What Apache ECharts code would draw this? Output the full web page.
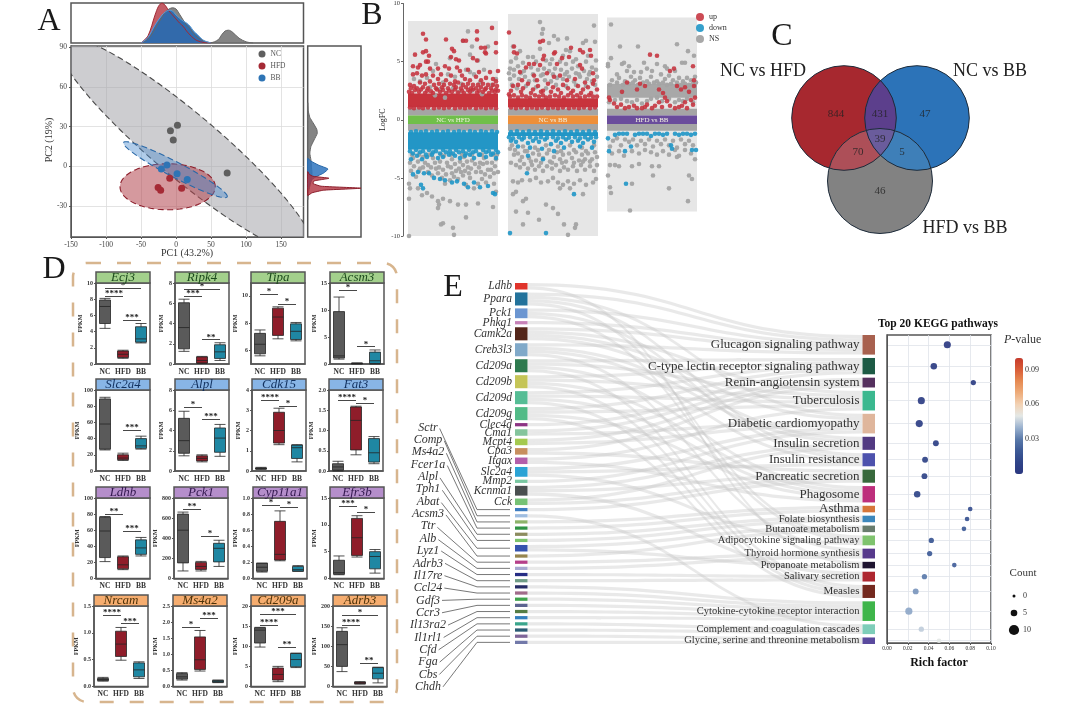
<!DOCTYPE html>
<html><head><meta charset="utf-8">
<style>html,body{margin:0;padding:0;background:#fff}#c{width:1080px;height:727px}</style>
<script src="https://cdn.jsdelivr.net/npm/echarts@6/dist/echarts.min.js"></script></head>
<body><div id="c"></div>
<script>
// ---------- Panel A data ----------
const pcaNC=[[-8,27],[2,31],[-4,20],[73,-5]];
const pcaHFD=[[-25.6,-16],[-22,-18],[-9,-9],[8,-16.6]];
const pcaBB=[[-21,-2],[-13,1],[1.5,-5.5],[16,-10]];
// centre x, centre y, major vector x,y, conjugate vector x,y
const ellipseNC=[13,16,180,-80,29,19];
const ellipseHFD=[-12,-15.4,68,0,0,17.4];
const ellipseBB=[-1,-2.5,74,-20.5,4.5,5.2];
const topNC=[[-50,0],[-40,10],[-30,35],[-20,65],[-15,78],[-10,85],[-5,88],[0,85],[5,72],[10,58],[15,45],[20,36],[25,24],[30,15],[40,5],[50,1],[60,8],[65,20],[70,30],[75,32],[80,28],[90,12],[100,3],[110,0]];
const topHFD=[[-50,0],[-40,18],[-30,70],[-25,92],[-20,100],[-15,93],[-10,80],[-5,70],[0,60],[5,50],[10,42],[15,30],[20,20],[25,12],[30,6],[40,1],[50,0]];
const topBB=[[-50,0],[-40,14],[-30,45],[-20,70],[-15,78],[-10,82],[-5,80],[0,70],[5,62],[10,55],[15,50],[20,42],[25,30],[30,22],[35,13],[40,6],[50,0]];
const sideNC=[[0,48],[1,42],[4,37],[10,33],[17,28],[18,25],[12,20],[6,15],[4,10],[6,5],[7,0],[8,-5],[7,-10],[4,-15],[1,-20],[0,-25]];
const sideBB=[[0,6],[6,4],[20,1],[38,-2],[30,-5],[15,-8],[8,-10],[4,-13],[0,-17]];
const sideHFD=[[0,-4],[3,-6],[10,-7.5],[40,-9],[12,-11],[10,-13],[25,-15],[100,-16.5],[30,-18],[8,-20],[0,-22]];
const pcaXTicks=[-150,-100,-50,0,50,100,150];
const pcaYTicks=[-30,0,30,60,90];
// ---------- Panel B data (flat x,y pairs, x inside strip) ----------
const stripNames=['NC vs HFD','NC vs BB','HFD vs BB'];
const stripTops=[8.5,9.1,8.8];
const stripBottoms=[-10,-10,-7.9];
const upBand=[[1.08,2.25],[1.08,1.85],null];
const downBand=[[-2.55,-1.08],[-1.4,-1.08],null];
const nsPatch=[null,null,[1.9,3.1]];
const bUpA=[15,7.4,18,6.9,38,6.9,55,6.8,58,6.8,69,7.6,84,7.9,88,6.6,69,6.9,73,6.2,77,6.2,77,5.8,15,5.8,18,5.9,7,5.6,21,5.5,44,6.1,46,5.9,43,5.4,48,5.2,51,5.1,88,5.8,78,5.7,65,5.3,69,5.1,12,4.7,18,5,20,5,10,4.5,5,4.6,22,4.4,30,4.4,37,4.6,41,4.4,49,4.5,52,4.2,60,4.3,71,4.1,82,4.1,90,4.2,5,3.9,9,4,14,3.8,18,3.9,25,3.8,30,3.5,33,3.9,38,3.4,43,3.8,47,3.3,54,3.8,57,3.5,62,3.4,68,3.7,73,3.4,78,3.6,85,3.5,88,3.3,2,3,6,2.9,12,3.2,17,3.1,22,3.3,26,3,31,3.1,36,3,42,3.1,46,3,50,3.2,55,3,60,3.1,65,3,70,3,75,3.1,80,3,85,3,89,2.9,3,2.7,9,2.7,15,2.8,20,2.7,28,2.7,34,2.8,40,2.7,48,2.8,53,2.7,58,2.8,63,2.7,68,2.7,73,2.8,78,2.7,83,2.7,88,2.6];
const edgeUpA=[1,2.4,4,2.3,7,2.55,11,2.4,13,2.6,17,2.3,19,2.5,23,2.45,25,2.3,29,2.6,32,2.4,35,2.55,38,2.3,41,2.5,44,2.4,47,2.6,50,2.35,54,2.5,56,2.3,60,2.55,62,2.4,65,2.6,69,2.35,71,2.5,75,2.4,77,2.6,81,2.3,84,2.5,87,2.4,90,2.5,2,1.05,6,1,11,1.05,15,1,20,1.05,26,1,31,1.05,36,1,41,1.05,47,1,52,1.05,57,1,62,1.05,68,1,73,1.05,78,1,83,1.05,88,1];
const bUpB=[1,7.5,32,6.7,35,6.8,6,6.3,6,5.8,9,5.7,36,5.5,46,5.7,47,5.8,63,6.2,72,6,75,5.8,82,6,83,5.5,26,4.8,21,4.8,18,4.5,32,4.7,35,5.2,49,4.8,54,5.3,61,5.4,72,4.7,74,4.4,85,4,12,4.1,14,3.4,26,3.8,29,3.4,39,4,46,3.7,52,3.8,59,3.4,67,3.5,77,3.2,86,3.4,1,2.2,5,2.9,10,3,15,2.7,20,3.1,25,2.6,30,2.9,35,2.5,40,3.1,45,2.8,50,2.6,55,3,60,2.7,65,2.5,70,2.9,75,2.6,80,2.8,85,3.1,89,2.6,3,2.5,13,2.4,23,2.3,33,2.4,43,2.4,53,2.3,63,2.3,73,2.3,83,2.3];
const edgeUpB=[2,2,6,2.1,10,1.9,14,2.1,18,2,22,1.9,27,2.1,31,2,35,2.1,38,1.9,42,2,47,2.1,51,2,56,1.9,60,2.1,65,2,69,2.1,72,1.9,77,2,81,2.1,85,2,89,2,3,1.05,8,1,13,1.05,19,1,24,1.05,29,1,34,1.05,40,1,45,1.05,50,1,55,1.05,61,1,66,1.05,71,1,76,1.05,82,1,87,1.05];
const bUpC=[43,5.6,50,5.5,63,4.2,67,4.4,86,4.6,87,3.4,2,1.9,3,1.7,7,1.4,10,1.1,14,1.3,18,1,22,1.1,27,1.2,30,1,35,1,38,1.1,40,1.3,45,1,48,1.2,52,1.5,55,1.1,58,1.9,60,1.6,63,1.2,68,1,72,1.1,75,1.2,78,1.5,80,1,84,1.7,86,1.3,88,1.9,30,2.6,33,3.1,20,3.2,15,2.4,38,2.9,70,2.9,74,2.6,78,2.8,82,2.4,87,2.9,52,2.6,56,2.3];
const bDownA=[3,-3.4,9,-3.1,14,-3.4,19,-3.2,24,-3,30,-3.3,35,-3.2,41,-3,47,-3.1,52,-3.3,57,-3.1,62,-3,66,-3.3,72,-3,78,-3.2,83,-3,88,-3.3,5,-4.7,10,-4.5,16,-4.6,21,-4.6,26,-5,32,-5.1,37,-5.2,44,-5.4,49,-5.3,13,-5.6,15,-5.9,56,-5.5,60,-5.8,66,-5.4,72,-5.8,80,-5.7,85,-6.3,87,-6.4];
const edgeDownA=[2,-2.7,5,-2.9,8,-2.6,12,-2.8,15,-2.7,18,-3,21,-2.6,25,-2.8,28,-2.7,32,-2.9,35,-2.6,38,-2.8,42,-2.7,45,-2.9,48,-2.6,51,-2.8,55,-2.7,58,-2.9,61,-2.6,65,-2.8,68,-2.7,71,-3,75,-2.6,78,-2.8,81,-2.7,85,-2.9,88,-2.6,90,-2.8,3,-1.05,8,-1,13,-1.05,18,-1,24,-1.05,29,-1,35,-1.05,40,-1,46,-1.05,51,-1,56,-1.05,62,-1,67,-1.05,73,-1,78,-1.05,84,-1,89,-1.05];
const bDownB=[3,-1.8,8,-1.9,14,-1.7,20,-2,25,-1.8,31,-1.9,37,-1.7,43,-2.1,48,-1.8,53,-2,58,-1.7,64,-1.9,70,-1.8,75,-2,80,-1.7,86,-1.9,10,-2.3,22,-2.4,34,-2.5,46,-2.7,56,-2.4,72,-2.3,84,-2.4,20,-3.1,35,-3.4,19,-4.6,66,-6.4,2,-9.75,38,-9.75];
const edgeDownB=[1,-1.5,5,-1.6,11,-1.5,16,-1.55,22,-1.5,28,-1.6,33,-1.5,39,-1.55,45,-1.5,50,-1.6,55,-1.5,61,-1.55,67,-1.5,72,-1.6,77,-1.5,83,-1.55,88,-1.5,3,-1.05,9,-1,15,-1.05,21,-1,27,-1.05,33,-1,39,-1.05,45,-1,51,-1.05,57,-1,63,-1.05,69,-1,75,-1.05,81,-1,87,-1.05];
const bDownC=[1,-1.6,2,-2.7,8,-1.3,12,-1.2,16,-1.2,20,-1.2,24,-2.3,28,-1.3,32,-1.2,36,-1.2,40,-1.2,44,-1.4,48,-1.2,52,-1.2,56,-1.3,60,-1.2,64,-2.2,68,-1.2,72,-1.3,76,-1.2,80,-1.2,84,-1.3,88,-1.2,89,-2.6,85,-2.6,18,-2.7,19,-5.5,65,-2.5];
const bNsA=[60,7.6,55,6.8,64,6.3,42,5.3,62,5.6,70,5.1,80,6.3,6,3.5,12,3.3,19,3.6,25,4.2,28,4.8,35,3.2,40,3.9,47,3.7,53,3.1,58,4.3,62,4.1,66,3.9,72,3.2,76,4.3,84,3,88,3.5,22,2.8,32,2.6,45,2.7,51,2.4,27,2.1,37,1.9,64,2.5,74,2.2,5,-3.3,10,-3.6,15,-3.2,20,-3.9,25,-3.3,28,-4.2,32,-3.6,36,-3.1,40,-4,44,-3.4,48,-4.4,52,-3.6,56,-3.2,60,-4.1,64,-3.5,68,-4.5,72,-3.7,76,-3.3,80,-4.3,84,-3.7,88,-3.4,3,-4.4,8,-4.9,30,-4.6,34,-5,38,-4.7,42,-5.2,46,-4.9,50,-5.1,55,-4.8,58,-5.6,62,-5,66,-5.9,70,-5.5,74,-5.1,78,-5.4,82,-4.9,86,-5.5,88,-6.2,1,-5.5,2,-5.9,1,-6.8,10,-5.9,14,-6.5,19,-6.3,24,-6.6,30,-7,35,-6.8,42,-7,31,-7.3,30,-7.6,50,-7.3,58,-7.3,70,-7.2,85,-7.5,58,-8.4,35,-8.9,33,-9,45,-9.3,46,-9.9,1,-10,2,-3.7,6,-4,12,-4.2,17,-3.7,23,-4.1,27,-3.7,31,-4.1,35,-4.3,39,-3.7,43,-4.1,47,-3.8,51,-4.2,55,-3.9,59,-3.6,63,-4.2,67,-3.8,71,-4.1,75,-3.8,79,-3.7,83,-4.3,87,-4,90,-4.5,11,-4.4,15,-4.1,20,-4.5,24,-4.8,37,-5.5,44,-4.6,53,-4.5,57,-4.4,61,-4.6,73,-4.5,77,-4.7,86,-4.6,4,-3,11,-3,22,-3,33,-3,43,-3,54,-3,64,-3,74,-3,85,-3,89,-3];
const bNsB=[32,8.4,86,8.1,35,7.8,34,7.4,46,7.2,50,6.9,59,7,41,6.6,78,6.8,87,6.7,75,6.6,5,6.3,12,5.9,25,5.4,32,6.1,44,5.2,55,5.5,58,6,62,5.9,68,5.2,80,5.5,88,5.1,3,5,8,5.3,15,4.9,20,5.4,28,5,38,5.1,42,4.8,52,5,58,4.8,65,5,70,4.6,78,5,84,4.5,2,4.4,6,4.3,10,4.6,16,4.2,23,4.5,30,4.3,36,4.4,41,4.2,47,4.4,53,4.3,59,4.1,64,4.4,68,4,76,4.2,82,4.1,88,4.3,2,3.5,6,3.8,11,3.5,17,3.7,21,3.3,27,3.4,33,3.8,37,3.4,43,3.3,49,3.6,55,3.5,61,3.7,66,3.3,72,3.7,79,3.5,84,3.3,89,3.7,4,3,9,2.7,18,2.9,28,2.8,38,2.7,48,3,58,2.9,68,3,78,2.9,87,3,2,-2.5,6,-3,10,-2.9,14,-3.2,17,-2.7,21,-3.3,25,-2.9,28,-3.5,31,-3,35,-3.3,39,-2.9,42,-3.6,46,-3.2,49,-2.8,52,-3.4,55,-3,58,-3.6,61,-2.9,64,-3.3,68,-2.8,71,-3.5,74,-3,77,-3.4,80,-2.9,84,-3.4,87,-2.8,89,-3.2,3,-3.7,8,-3.9,12,-4.1,16,-3.8,20,-4.2,24,-3.9,27,-4.3,31,-4,35,-4.4,39,-4,44,-4.2,48,-3.9,52,-4.4,56,-4.1,60,-4.3,65,-4,69,-4.4,73,-3.9,77,-4.3,82,-4,86,-4.4,89,-3.9,5,-5.3,10,-5.4,14,-5.2,22,-5.2,28,-5,33,-5.4,40,-5.3,45,-5,50,-5.4,52,-5.9,55,-5.6,60,-5.3,62,-5.9,66,-5.5,72,-5.2,78,-5.6,85,-5.4,88,-5.1,5,-6.4,8,-6.2,18,-6.8,15,-7,8,-7.9,20,-8,38,-7.3,45,-7.6,50,-8.1,31,-8.6,15,-9,56,-9,68,-9,67,-9.3,60,-9.9,75,-6.4,1,4,13,4,25,3.9,35,3.9,45,3.9,57,3.9,71,3.9,81,3.9,4,-2.2,15,-2.3,27,-2.4,38,-2.2,50,-2.3,62,-2.2,74,-2.4,86,-2.2,7,-2.6,19,-2.7,30,-2.6,41,-2.6,53,-2.7,66,-2.6,78,-2.7,12,-3.5,23,-3.6,33,-3.7,44,-3.7,54,-3.7,66,-3.7,75,-3.6,82,-3.6];
const bNsC=[4,8.2,13,6.3,31,6.3,70,6.5,81,5.9,87,5.5,1,4.8,1,4.6,4,5.3,15,4.8,17,4.9,22,4.6,37,4.9,50,4.8,58,4.6,60,4.4,68,4.2,75,4.9,78,4.9,40,4.4,45,4.2,34,4.1,27,4.1,10,3.9,20,4.2,5,3.4,12,3.6,18,3.3,24,3.7,28,3.4,33,3.6,40,3.3,44,3.7,50,3.3,54,3.9,58,3.5,62,3.8,66,3.4,72,3.6,76,3.3,80,3.6,84,3.4,88,3.7,2,1.5,8,1.7,14,1.8,20,1.6,25,1.5,30,1.7,35,1.4,40,1.6,44,1.8,50,1.9,55,1.6,62,1.8,68,1.5,72,1.7,76,1.6,80,1.8,86,1.5,3,3,10,3.2,16,3,22,3.1,26,3.2,31,3,36,3.2,42,3.1,47,3.2,52,3.1,56,3.2,60,3,64,3.1,70,3.2,74,3,78,3.1,82,3,86,3.1,89,3.2,3,-2.3,6,-1.8,10,-1.6,14,-2.2,18,-1.7,22,-1.9,26,-1.7,30,-2.2,34,-1.8,38,-2.1,42,-1.7,46,-2.3,50,-1.8,54,-2.1,58,-1.7,62,-2.2,66,-1.8,70,-2.4,74,-1.7,78,-2.1,82,-1.8,86,-2.2,5,-2.9,12,-2.7,17,-3.1,25,-2.7,32,-2.9,38,-2.6,44,-2.8,50,-3,56,-2.7,62,-3,68,-2.6,72,-3.1,78,-2.6,84,-2.9,88,-3.4,1,-4.8,3,-3.9,8,-3.9,12,-4,25,-4,32,-3.8,45,-4,52,-4,46,-4.8,70,-3.2,3,-5.8,4,-6.3,25,-5.5,62,-5.9,82,-4.8,85,-5.1,81,-7,23,-7.8];
// ---------- Panel C data ----------
const vennCircles=[[124,98,52.3],[197,98,52.3],[160,161,52.5]];
const vennCounts=[844,47,431,39,70,5,46];
const vennCountPos=[[116,94],[205,94],[160,94],[160,119],[138,132],[182,132],[160,171]];
// ---------- Panel D data: min, Q1, median, Q3, max for NC, HFD, BB ----------
const boxGroups=['NC','HFD','BB'];
const boxGenes=['Ecj3','Ripk4','Tipa','Acsm3','Slc2a4','Alpl','Cdk15','Fat3','Ldhb','Pck1','Cyp11a1','Efr3b','Nrcam','Ms4a2','Cd209a','Adrb3'];
const boxValues=[
[[4.4,5,7.1,7.9,8.1],[0.7,0.8,1.2,1.6,1.7],[2.6,2.7,3.1,4.6,5]],
[[1.25,1.5,3.6,6.05,6.4],[0.05,0.1,0.35,0.7,0.75],[0.35,0.55,1.2,1.9,2.1]],
[[5.6,5.75,6.45,7.25,7.5],[6.85,7.1,8.45,9.1,9.2],[6.7,6.8,7.4,7.95,8.05]],
[[0.9,1.1,1.5,9.7,12.4],[0.02,0.05,0.1,0.15,0.2],[0,0.1,0.6,2.2,2.6]],
[[26,27,58,89,91],[13,14,16,20,22],[27,28,31,40,43]],
[[1.5,1.75,3,5.2,5.9],[0.9,1,1.25,1.5,1.6],[1.45,1.85,3.25,4.25,4.6]],
[[0.08,0.1,0.13,0.15,0.18],[1.3,1.38,2,2.9,3.1],[0.45,0.62,1.15,1.28,1.3]],
[[0,0.02,0.1,0.18,0.24],[0.4,0.52,1.25,1.58,1.6],[0.18,0.22,0.45,0.8,0.85]],
[[21,26,59,76,77],[11,12,17,27,28],[28,30,38,48,51]],
[[75,155,480,640,660],[75,90,120,160,170],[120,165,300,350,380]],
[[0.08,0.09,0.14,0.19,0.19],[0.22,0.23,0.3,0.71,0.84],[0.09,0.09,0.11,0.15,0.16]],
[[0.7,0.8,1.1,3.4,4.2],[4,4.3,7.6,11.2,11.7],[1,1.8,4.1,5,5.4]],
[[0.1,0.11,0.13,0.15,0.17],[0.49,0.56,0.79,1.03,1.1],[0.15,0.18,0.31,0.44,0.46]],
[[0.2,0.23,0.3,0.4,0.43],[0.48,0.53,0.83,1.54,1.74],[0.12,0.13,0.16,0.19,0.2]],
[[9.8,10.8,14,14.6,14.7],[1.2,1.6,3,4.6,5],[4.7,4.9,6.7,8.2,8.3]],
[[37,50,104,137,146],[6,7,9,11,12],[9,19,33,47,48]]];
const boxTicks=[[0,2,4,6,8,10],[0,2,4,6,8],[6,8,10],[0,5,10,15],[0,20,40,60,80,100],[0,2,4,6,8],[0,1,2,3,4],[0,0.5,1,1.5,2],[0,20,40,60,80,100],[0,200,400,600,800],[0,0.2,0.4,0.6,0.8,1],[0,5,10,15],[0,0.5,1,1.5],[0,0.5,1,1.5,2,2.5],[0,5,10,15,20],[0,50,100,150,200]];
const boxMin=[0,0,5,0,0,0,0,0,0,0,0,0,0,0,0,0];
const boxMax=[10,8,10.95,15,100,8,4,2,100,800,1,15,1.5,2.5,20,200];
const boxDigits=[0,0,0,0,0,0,0,1,0,0,1,0,1,1,0,0];
const boxBrackets=[
[[0,1,8.4,'****'],[0,2,9.3,'*'],[1,2,5.4,'***']],
[[0,1,6.7,'***'],[0,2,7.4,'*'],[1,2,2.4,'**']],
[[0,1,10.1,'*'],[1,2,9.4,'*']],
[[0,1,13.7,'*'],[1,2,3.2,'*']],
[[1,2,50,'***']],
[[0,1,6.3,'*'],[1,2,5.1,'***']],
[[0,1,3.5,'****'],[1,2,3.2,'*']],
[[0,1,1.75,'****'],[1,2,1.67,'*']],
[[0,1,80,'**'],[1,2,59,'***']],
[[0,1,690,'**'],[1,2,420,'*']],
[[0,1,0.91,'*'],[1,2,0.89,'*']],
[[0,1,13.4,'***'],[1,2,12.3,'*']],
[[0,1,1.33,'****'],[1,2,1.17,'***']],
[[0,1,1.85,'*'],[1,2,2.12,'***']],
[[0,1,15.3,'****'],[0,2,18,'***'],[1,2,9.7,'**']],
[[0,1,152,'****'],[0,2,178,'*'],[1,2,57,'**']]];
// ---------- Panel E data ----------
const largeGenes=['Ldhb','Ppara','Pck1','Phkg1','Camk2a','Creb3l3','Cd209a','Cd209b','Cd209d','Cd209g','Clec4d','Cma1','Mcpt4','Cpa3','Itgax','Slc2a4','Mmp2','Kcnma1','Cck'];
const smallGenes=['Sctr','Comp','Ms4a2','Fcer1a','Alpl','Tph1','Abat','Acsm3','Ttr','Alb','Lyz1','Adrb3','Il17re','Ccl24','Gdf3','Ccr3','Il13ra2','Il1rl1','Cfd','Fga','Cbs','Chdh'];
const largeGeneColors=['#e0342b','#23729b','#6c96d1','#c782b8','#54261a','#80a9c9','#2e7a4e','#c5c557','#55bd95','#52bb87','#8d3584','#84c49c','#a4c94f','#c78e5e','#b25eaa','#2aa3d5','#79c7a1','#4a4f4f','#76c275'];
const smallGeneColors=['#3d7cc0','#9fbde0','#8db36a','#2f9344','#8c8c5e','#7ac26b','#3553ae','#96854f','#b63f8a','#a7a8d0','#272d85','#6f9c86','#262c66','#a16b8a','#3fa24c','#5c6490','#557d45','#3480bd','#3aa58c','#2a5a73','#7f6699','#7279a9'];
const pathways=['Glucagon signaling pathway','C-type lectin receptor signaling pathway','Renin-angiotensin system','Tuberculosis','Diabetic cardiomyopathy','Insulin secretion','Insulin resistance','Pancreatic secretion','Phagosome','Asthma','Folate biosynthesis','Butanoate metabolism','Adipocytokine signaling pathway','Thyroid hormone synthesis','Propanoate metabolism','Salivary secretion','Measles','Cytokine-cytokine receptor interaction','Complement and coagulation cascades','Glycine, serine and threonine metabolism'];
const pathwayColors=['#a8614f','#1d5a45','#55305e','#3bb88f','#dfb69c','#523a82','#4d52ad','#38693c','#bd2f7c','#d6763a','#3c87bc','#687c6d','#7fc36e','#57398c','#1f1430','#ae2730','#74291f','#3eb54a','#7ecdb9','#5a4a9e'];
const pathwayFontSizes=[13,13,13,13,13,13,13,13,13,13,10.5,10.5,10.5,10.5,10.5,10.5,11,10.5,10.5,10.5];
const pathwayGenes=[
['Ldhb','Ppara','Pck1','Phkg1','Camk2a','Creb3l3'],
['Cd209a','Cd209b','Cd209d','Cd209g','Clec4d'],
['Cma1','Mcpt4','Cpa3'],
['Camk2a','Cd209a','Cd209b','Cd209d','Cd209g','Itgax'],
['Ppara','Camk2a','Cma1','Mcpt4','Slc2a4','Mmp2'],
['Camk2a','Creb3l3','Kcnma1','Cck'],
['Ppara','Pck1','Creb3l3','Slc2a4'],
['Cpa3','Kcnma1','Cck','Sctr'],
['Cd209a','Cd209b','Cd209d','Cd209g','Itgax'],
['Ms4a2','Fcer1a'],
['Alpl','Tph1'],
['Abat','Acsm3'],
['Ppara','Pck1','Slc2a4'],
['Creb3l3','Ttr','Alb'],
['Ldhb','Abat'],
['Kcnma1','Lyz1','Adrb3'],
['Cd209a','Cd209b','Cd209d','Cd209g'],
['Il17re','Ccl24','Gdf3','Ccr3','Il13ra2','Il1rl1'],
['Comp','Cfd','Fga'],
['Cbs','Chdh']];
const richFactor=[0.058,0.045,0.083,0.033,0.031,0.047,0.0366,0.036,0.029,0.08,0.077,0.074,0.0426,0.041,0.0647,0.036,0.0276,0.021,0.033,0.05];
const pValue=[0.002,0.003,0.004,0.004,0.005,0.006,0.008,0.009,0.01,0.014,0.016,0.02,0.018,0.02,0.022,0.03,0.035,0.038,0.045,0.05];
const pScaleTicks=[0.09,0.06,0.03];
const countLegend=[0,5,10];

// ---------- layout ----------
const SERIF='"Liberation Serif","DejaVu Serif",serif';
const grids=[],xAxes=[],yAxes=[],series=[],graphics=[];
const DARK='#555';
function addGrid(l,t,w,h,border){
  grids.push({left:l,top:t,width:w,height:h,show:!!border,borderColor:DARK,borderWidth:border||0,containLabel:false,backgroundColor:'transparent'});
  return grids.length-1;
}
const hidden={show:false};
function T(text,x,y,size,o){o=o||{};
  const font=(o.style||'')+' '+(o.weight||'')+' '+size+'px '+SERIF;
  graphics.push({type:'text',x:x,y:y,rotation:o.rot||0,z:o.z||100,silent:true,style:{text:text,font:font,fill:o.color||'#222',
    textAlign:o.align||'center',textVerticalAlign:'middle',align:o.align||'center',verticalAlign:'middle'}});
}
// panel letters
[['A',49,22],['B',372,16],['C',782,37],['D',54,270],['E',453,288]].forEach(a=>T(a[0],a[1],a[2],32,{color:'#1a1a1a'}));

// ---------- A ----------
const C_NC='#5f5f5f',C_HFD='#a52a35',C_BB='#2e74b5';
const gMain=addGrid(71,46,232.5,191,1.5);
const lineGrey={show:true,lineStyle:{color:'#dcdcdc',width:0.8}};
xAxes.push({gridIndex:gMain,type:'value',min:-150,max:182,
  axisLine:{onZero:false,lineStyle:{color:DARK}},
  axisTick:{length:2,customValues:pcaXTicks,lineStyle:{color:DARK}},
  axisLabel:{customValues:pcaXTicks,fontSize:7.5,color:'#444',margin:4,fontFamily:SERIF},splitLine:lineGrey});
yAxes.push({gridIndex:gMain,type:'value',min:-53.4,max:91,
  axisLine:{onZero:false,lineStyle:{color:DARK}},
  axisTick:{length:2,customValues:pcaYTicks,lineStyle:{color:DARK}},
  axisLabel:{customValues:pcaYTicks,fontSize:7.5,color:'#444',margin:4,fontFamily:SERIF},splitLine:lineGrey});
function ellipseSeries(par,fill,stroke,z){
  series.push({type:'custom',xAxisIndex:gMain,yAxisIndex:gMain,clip:true,z:z,silent:true,data:[par],
    renderItem:(p,api)=>{const pts=[];
      for(let i=0;i<120;i++){const t=i/120*2*Math.PI;
        pts.push(api.coord([api.value(0)+Math.cos(t)*api.value(2)+Math.sin(t)*api.value(4),api.value(1)+Math.cos(t)*api.value(3)+Math.sin(t)*api.value(5)]));}
      return {type:'polygon',shape:{points:pts},style:{fill:fill,stroke:stroke,lineWidth:1.1,lineDash:[6,3.5]}};}});
}
ellipseSeries(ellipseNC,'rgba(160,160,164,0.52)','#4a4a4a',1);
ellipseSeries(ellipseHFD,'rgba(178,70,78,0.55)','#8d1f2c',2);
ellipseSeries(ellipseBB,'rgba(70,135,205,0.42)','#2a69a8',3);
[['NC',pcaNC,C_NC],['HFD',pcaHFD,C_HFD],['BB',pcaBB,C_BB]].forEach(a=>{
  series.push({type:'scatter',name:a[0],xAxisIndex:gMain,yAxisIndex:gMain,data:a[1],symbolSize:7,itemStyle:{color:a[2],opacity:1},z:5,silent:true});
});
const gTop=addGrid(71,3,232.5,40,1.5);
xAxes.push({gridIndex:gTop,type:'value',min:-150,max:182,show:false});
yAxes.push({gridIndex:gTop,type:'value',min:0,max:100,show:false});
[[topNC,'#6e6e6e','#666',.85],[topHFD,'#b8404a','#a02a35',.85],[topBB,'#2b6bb0','#5a9bd8',.95]].forEach(a=>{
  series.push({type:'line',xAxisIndex:gTop,yAxisIndex:gTop,data:a[0],smooth:0.3,showSymbol:false,silent:true,lineStyle:{color:a[2],width:1},areaStyle:{color:a[1],opacity:a[3]},itemStyle:{color:a[1]}});
});
const gSide=addGrid(307.7,46,53.3,191,1.5);
xAxes.push({gridIndex:gSide,type:'value',min:0,max:100,show:false});
yAxes.push({gridIndex:gSide,type:'value',min:-53.4,max:91,show:false});
[[sideNC,'rgba(110,110,110,.85)','#666'],[sideBB,'rgba(46,116,190,.85)','#2a69a8'],[sideHFD,'rgba(178,50,62,.8)','#8d1f2c']].forEach(a=>{
  series.push({type:'custom',xAxisIndex:gSide,yAxisIndex:gSide,clip:true,silent:true,data:[[0]],
    renderItem:(p,api)=>({type:'polygon',shape:{points:a[0].map(d=>api.coord(d)),smooth:0.15},style:{fill:a[1],stroke:a[2],lineWidth:1}})});
});
T('PC1 (43.2%)',187,253,10,{color:'#333'});
T('PC2 (19%)',49,140,10,{color:'#333',rot:Math.PI/2});

// ---------- B ----------
const gB=addGrid(403,3.5,294,232.5);
const stripX=[5,105,204];
xAxes.push({gridIndex:gB,type:'value',min:0,max:294,show:false});
yAxes.push({gridIndex:gB,type:'value',min:-10,max:10,interval:5,
  axisLine:{show:true,onZero:false,lineStyle:{color:'#666'}},axisTick:{show:true,length:2,lineStyle:{color:'#666'}},
  axisLabel:{fontSize:6.5,color:'#333',margin:3,fontFamily:SERIF},splitLine:{show:false},
  name:'LogFC',nameLocation:'middle',nameGap:16,nameTextStyle:{fontSize:8,color:'#222',fontFamily:SERIF}});
function pairs(flats){const out=[];flats.forEach((f,s)=>{for(let i=0;i<f.length;i+=2)out.push([f[i]+stripX[s],f[i+1]]);});return out;}
const stripColors=['#70bf4a','#ee8f3a','#6a4c9c'];
const areas=[];
function area(s,y0,y1,color,name){
  const a={coord:[stripX[s],y0],itemStyle:{color:color,opacity:1}};
  if(name){a.name=name;}
  areas.push([a,{coord:[stripX[s]+90,y1]}]);
}
stripNames.forEach((n,s)=>area(s,stripBottoms[s],stripTops[s],'#e6e6e6'));
stripNames.forEach((n,s)=>{
  area(s,0.37,0.95,'#a5a5a5');area(s,-0.95,-0.37,'#a5a5a5');
  if(nsPatch[s])area(s,nsPatch[s][0],nsPatch[s][1],'#a8a8a8');
  if(upBand[s])area(s,upBand[s][0],upBand[s][1],'#c8333c');
  if(downBand[s])area(s,downBand[s][0],downBand[s][1],'#2396c6');
});
stripNames.forEach((n,s)=>area(s,-0.37,0.37,stripColors[s],n));
series.push({type:'scatter',name:'NS',xAxisIndex:gB,yAxisIndex:gB,data:pairs([bNsA,bNsB,bNsC]),symbolSize:4.6,silent:true,z:3,itemStyle:{color:'#a3a3a3',opacity:.95},
  markArea:{silent:true,z:1,animation:false,label:{show:true,position:'inside',color:'#f2f2e0',fontSize:7,fontFamily:SERIF},data:areas}});
series.push({type:'scatter',name:'up',xAxisIndex:gB,yAxisIndex:gB,data:pairs([bUpA.concat(edgeUpA),bUpB.concat(edgeUpB),bUpC]),symbolSize:4.6,silent:true,z:4,itemStyle:{color:'#c5323e',opacity:.88}});
series.push({type:'scatter',name:'down',xAxisIndex:gB,yAxisIndex:gB,data:pairs([bDownA.concat(edgeDownA),bDownB.concat(edgeDownB),bDownC]),symbolSize:4.6,silent:true,z:4,itemStyle:{color:'#1f96c6',opacity:.9}});

// ---------- C ----------
const gC=addGrid(720,20,320,230);
xAxes.push({gridIndex:gC,type:'value',min:0,max:320,show:false});
yAxes.push({gridIndex:gC,type:'value',min:0,max:230,inverse:true,show:false});
function inside(p,c){return Math.hypot(p[0]-c[0],p[1]-c[1])<=c[2]+1e-6;}
function region(ids){ // outline of the overlap of several circles
  const pts=[];
  ids.forEach(i=>{const c=vennCircles[i];for(let k=0;k<720;k++){const t=k/720*2*Math.PI,p=[c[0]+c[2]*Math.cos(t),c[1]+c[2]*Math.sin(t)];
    if(ids.every(j=>j===i||inside(p,vennCircles[j])))pts.push(p);}});
  const mx=pts.reduce((s,p)=>s+p[0],0)/pts.length,my=pts.reduce((s,p)=>s+p[1],0)/pts.length;
  return pts.sort((a,b)=>Math.atan2(a[1]-my,a[0]-mx)-Math.atan2(b[1]-my,b[0]-mx));
}
series.push({type:'custom',xAxisIndex:gC,yAxisIndex:gC,silent:true,data:[[0]],renderItem:(p,api)=>{
  const ch=[];
  const fills=['#a7282f','#2c73b8','#828282'];
  const circ=(c,st)=>{const o=api.coord([c[0],c[1]]);return {type:'circle',shape:{cx:o[0],cy:o[1],r:api.size([c[2],0])[0]},style:st};};
  vennCircles.forEach((c,i)=>ch.push(circ(c,{fill:fills[i]})));
  [[[0,2],'#ad4f58'],[[1,2],'#3e7fb8'],[[0,1],'#5c3f8c'],[[0,1,2],'#6a5c9c']].forEach(r=>
    ch.push({type:'polygon',shape:{points:region(r[0]).map(q=>api.coord(q))},style:{fill:r[1]}}));
  vennCircles.forEach(c=>ch.push(circ(c,{fill:null,stroke:'#1d2b3a',lineWidth:1})));
  return {type:'group',children:ch};
}});
series.push({type:'scatter',xAxisIndex:gC,yAxisIndex:gC,silent:true,z:6,symbolSize:1,itemStyle:{color:'transparent'},
  data:vennCountPos.map((p,i)=>[p[0],p[1],vennCounts[i]]),
  label:{show:true,position:'inside',formatter:q=>q.data[2],fontSize:11,color:'#222',fontFamily:SERIF}});
T('NC vs HFD',763,71,18);T('NC vs BB',990,71,18);T('HFD vs BB',965,228,18);

// ---------- D ----------
graphics.push({type:'rect',shape:{x:73,y:263,width:324,height:439,r:14},z:0,silent:true,style:{fill:null,stroke:'#d7b58e',lineWidth:2.5,lineDash:[14,16]}});
const boxFrames=[[96,272,54],[175,272,54],[251,272,54],[330,272,54],[96,379,54],[175,379,54],[252,379,54],[329,379,54],[96,487,54],[174,487,54],[253,487,54],[330,487,54],[94,595,54],[173,595,54],[251,595,54],[333,595,54]];
const rowFill=['#a3d08c','#88b5e6','#b58ecb','#f6ad6f'];
const rowText=['#1c4a1c','#12315f','#33184f','#4d3208'];
const boxColors=['#5a5a5a','#8f1d2a','#1f87a3'];
boxGenes.forEach((g,i)=>{
  const f=boxFrames[i],row=Math.floor(i/4);
  const gi=addGrid(f[0],f[1]+11,f[2],row===2||row===3?80.5:81,1.5);
  xAxes.push({gridIndex:gi,type:'category',data:boxGroups,axisLine:{onZero:false,lineStyle:{color:DARK,width:1.5}},
    axisTick:{alignWithLabel:true,length:2,lineStyle:{color:DARK}},axisLabel:{fontSize:7.5,fontWeight:'bold',color:'#333',margin:4,fontFamily:SERIF,interval:0},splitLine:hidden});
  yAxes.push({gridIndex:gi,type:'value',min:boxMin[i],max:boxMax[i],name:'FPKM',nameLocation:'middle',nameGap:11,
    nameTextStyle:{fontSize:6,fontWeight:'bold',color:'#333',fontFamily:SERIF},
    axisLine:{onZero:false,show:true,lineStyle:{color:DARK,width:1.5}},axisTick:{show:true,length:2,customValues:boxTicks[i],lineStyle:{color:DARK}},
    axisLabel:{customValues:boxTicks[i],fontSize:6,fontWeight:'bold',color:'#333',margin:3,fontFamily:SERIF,formatter:v=>Number(v).toFixed(boxDigits[i])},splitLine:hidden});
  series.push({type:'boxplot',xAxisIndex:gi,yAxisIndex:gi,silent:true,boxWidth:[11,11],
    data:boxValues[i].map((v,k)=>({value:v,itemStyle:{color:boxColors[k],borderColor:'#242424',borderWidth:0.8}})),
    markLine:{silent:true,symbol:['none','none'],animation:false,lineStyle:{color:'#333',width:0.9,type:'solid'},
      label:{show:true,position:'middle',formatter:'{b}',fontSize:9,fontWeight:'bold',color:'#222',distance:-2,fontFamily:SERIF},
      data:boxBrackets[i].map(b=>[{coord:[b[0],b[2]],name:b[3]},{coord:[b[1],b[2]]}])}});
  graphics.push({type:'rect',shape:{x:f[0],y:f[1],width:f[2],height:11},z:50,silent:true,style:{fill:rowFill[row],stroke:DARK,lineWidth:1.5}});
  T(g,f[0]+f[2]/2,f[1]+5.5,13,{style:'italic',color:rowText[row]});
});

// ---------- E sankey ----------
const SANKEY={left:515,top:283,width:360,height:361,nodeW:12.5,gap:2.9};
const geneNames=largeGenes.concat(smallGenes);
const geneColors=largeGeneColors.concat(smallGeneColors);
const geneUnits=geneNames.map(g=>pathwayGenes.reduce((s,l)=>s+(l.includes(g)?1:0),0));
const pathUnits=pathwayGenes.map(l=>l.length);
const totalUnits=geneUnits.reduce((a,b)=>a+b,0);
const ky=(SANKEY.height-(geneNames.length-1)*SANKEY.gap)/totalUnits;
const PATH_TOP=335,PATH_BOTTOM=644;
const gapR=(PATH_BOTTOM-PATH_TOP-totalUnits*ky)/(pathways.length-1);
const pathCentres=[];
let cum=PATH_TOP;
const pathLocal=pathUnits.map(u=>{const y=cum;pathCentres.push(y+u*ky/2);cum+=u*ky+gapR;return (y-SANKEY.top)/SANKEY.height;});
let gy=SANKEY.top;
const geneCentres=geneUnits.map(u=>{const c=gy+u*ky/2;gy+=u*ky+SANKEY.gap;return c;});
const nodes=[];
geneNames.forEach((g,i)=>nodes.push({name:g,depth:0,itemStyle:{color:geneColors[i]},
  label:{show:i<largeGenes.length,position:'left',distance:3,fontSize:11.5,fontStyle:'italic',color:'#333',fontFamily:SERIF}}));
pathways.forEach((p,i)=>nodes.push({name:p,depth:1,localY:pathLocal[i],itemStyle:{color:pathwayColors[i]},
  label:{show:true,position:'left',distance:3,fontSize:pathwayFontSizes[i],color:'#333',fontFamily:SERIF}}));
const links=[];
pathwayGenes.forEach((l,i)=>l.forEach(g=>links.push({source:g,target:pathways[i],value:1})));
series.push({type:'sankey',left:SANKEY.left,top:SANKEY.top,width:SANKEY.width,height:SANKEY.height,nodeWidth:SANKEY.nodeW,nodeGap:SANKEY.gap,
  layoutIterations:0,nodeAlign:'justify',draggable:false,silent:true,emphasis:{disabled:true},data:nodes,links:links,
  lineStyle:{color:'#c4c4c4',opacity:.38,curveness:.5},itemStyle:{borderWidth:0}});
// small-gene labels and leader lines
const mctx=document.createElement('canvas').getContext('2d');
mctx.font='italic 12px '+SERIF;
smallGenes.forEach((g,i)=>{
  const y=427.5+i*12.35,x=428;
  T(g,x,y,12,{style:'italic',color:'#333'});
  const ny=geneCentres[largeGenes.length+i];
  graphics.push({type:'polyline',silent:true,z:60,shape:{points:[[x+mctx.measureText(g).width/2+2,y+(i<10?1:0)],[477,ny],[510,ny]]},style:{stroke:'#555',lineWidth:0.8,fill:null}});
});

// ---------- E dot plot ----------
const gDot=addGrid(887,335,104,308,1.5);
const dotRows=pathCentres.map(c=>c-335);
xAxes.push({gridIndex:gDot,type:'value',min:0,max:0.1,interval:0.02,axisLine:{onZero:false,lineStyle:{color:DARK}},axisTick:{length:2,lineStyle:{color:DARK}},
  axisLabel:{fontSize:5.5,color:'#333',margin:3,fontFamily:SERIF,formatter:v=>v.toFixed(2)},splitLine:{show:true,lineStyle:{color:'#dfe3ea',width:.8}}});
yAxes.push({gridIndex:gDot,type:'value',min:0,max:308,inverse:true,axisLine:{onZero:false,lineStyle:{color:DARK}},
  axisTick:{show:false,customValues:dotRows},axisLabel:{show:false,customValues:dotRows},splitLine:{show:true,lineStyle:{color:'#dfe3ea',width:.8}}});
const dotIndex=series.length;
series.push({type:'scatter',xAxisIndex:gDot,yAxisIndex:gDot,silent:true,z:5,
  data:richFactor.map((r,i)=>[r,dotRows[i],pathUnits[i],pValue[i]]),symbolSize:d=>3.4+d[2]*0.62,itemStyle:{opacity:.92}});
T('Top 20 KEGG pathways',938,324,11.5,{weight:'bold',color:'#111'});
T('Rich factor',939,663,12,{weight:'bold',color:'#111'});
graphics.push({type:'text',x:1004,y:340,silent:true,style:{rich:{i:{fontStyle:'italic',fontSize:12,fontFamily:SERIF,fill:'#333'},n:{fontSize:12,fontFamily:SERIF,fill:'#333'}},text:'{i|P}{n|-value}',textVerticalAlign:'middle',verticalAlign:'middle'}});
pScaleTicks.forEach(v=>T(v.toFixed(2),1025,474-v/0.1*116,8,{align:'left',color:'#333'}));
T('Count',1023,573,11,{color:'#333'});
countLegend.forEach((c,i)=>{
  const d=3+c*0.72,y=596+i*17;
  graphics.push({type:'circle',silent:true,shape:{cx:1014,cy:y,r:d/2},style:{fill:'#111'}});
  T(String(c),1023,y,8,{align:'left',color:'#333'});
});

const chart=echarts.init(document.getElementById('c'),null,{renderer:'canvas'});
chart.setOption({
  animation:false,backgroundColor:'#fff',textStyle:{fontFamily:SERIF},
  grid:grids,xAxis:xAxes,yAxis:yAxes,series:series,
  legend:[
    {orient:'vertical',left:258.5,top:50,itemWidth:7,itemHeight:7,itemGap:4,icon:'circle',selectedMode:false,data:['NC','HFD','BB'],textStyle:{fontSize:7.5,color:'#555',fontFamily:SERIF},padding:0},
    {orient:'vertical',left:696,top:13,itemWidth:8,itemHeight:8,itemGap:3,icon:'circle',selectedMode:false,data:['up','down','NS'],textStyle:{fontSize:8,color:'#333',fontFamily:SERIF},padding:0}
  ],
  visualMap:{type:'continuous',seriesIndex:dotIndex,dimension:3,min:0,max:0.1,left:1000,top:343,itemWidth:8,itemHeight:116,calculable:false,hoverLink:false,showLabel:false,text:null,
    inRange:{color:['#2a3880','#2f4488','#3d5a96','#5a7aaa','#9bb2cf','#e4e8e6','#f2d2b4','#eeac7a','#e68a52','#d95d38','#c63a2b']}},
  graphic:graphics
});
</script></body></html>
